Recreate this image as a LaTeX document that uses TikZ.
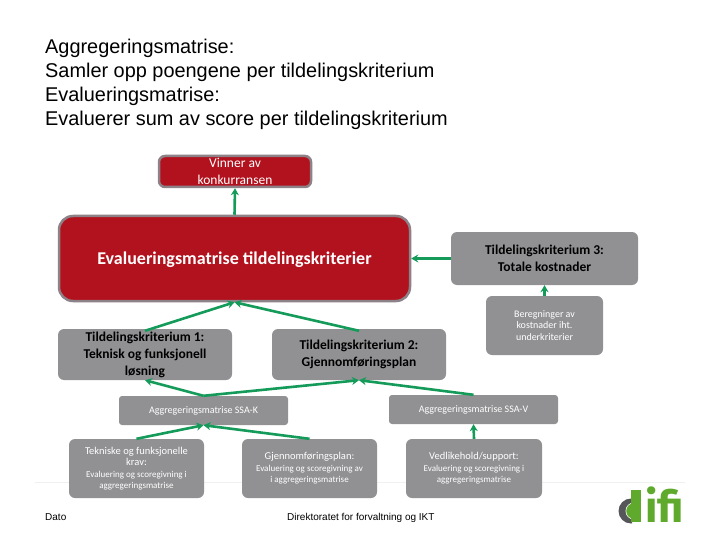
\documentclass[tikz,border=0pt]{standalone}
\usepackage{fontspec}
\setmainfont{Liberation Sans}
\newfontfamily\carl{Carlito}
\newfontfamily\logofont{Fira Sans}[UprightFont=* Bold]
\usetikzlibrary{arrows.meta}
\definecolor{boxgray}{RGB}{145,145,148}
\definecolor{redfill}{RGB}{178,18,30}
\definecolor{edgegray}{RGB}{140,130,135}
\definecolor{arrowgreen}{RGB}{20,155,90}
\definecolor{logogreen}{RGB}{95,170,45}
\definecolor{logogray}{RGB}{85,85,90}
\tikzset{
  box/.style={rectangle,rounded corners=6pt,fill=boxgray,inner sep=0pt,align=center},
  redbox/.style={box,fill=redfill,draw=edgegray,line width=2.5pt,text=white},
  bigtxt/.style={font=\carl\bfseries\fontsize{13.5}{17}\selectfont,text=black},
  smalltxt/.style={font=\carl\fontsize{10}{11.5}\selectfont,text=white},
  link/.style={draw=arrowgreen,line width=2.6pt,-{Stealth[length=7pt,width=8pt]}},
  plain/.style={inner sep=0pt,anchor=base west,font=\fontsize{10}{12}\selectfont},
}
\begin{document}
\begin{tikzpicture}[x=1pt,y=-1pt]
\useasboundingbox (0,0) rectangle (720,540);
\fill[white] (0,0) rectangle (720,540);
\draw[black!6,line width=0.5pt] (35,482) -- (685,482);
\node[inner sep=0pt,anchor=north west,align=left,font=\fontsize{19.9}{24}\selectfont] (title) at (45,38.5)
 {Aggregeringsmatrise:\\Samler opp poengene per tildelingskriterium\\Evalueringsmatrise:\\Evaluerer sum av score per tildelingskriterium};
\node[redbox,minimum width=152pt,minimum height=31pt,font=\carl\fontsize{13.5}{17}\selectfont] (win) at (235,171.5) {Vinner av\\konkurransen};
\node[redbox,rounded corners=14pt,minimum width=351pt,minimum height=85pt] (eval) at (234.5,258.5) {};
\node[font=\carl\bfseries\fontsize{18}{20}\selectfont,text=white,inner sep=0pt] (evaltxt) at (234.5,259.5) {Evalueringsmatrise tildelingskriterier};
\node[box,bigtxt,minimum width=174pt,minimum height=51pt] (t1) at (145,354.5) {Tildelingskriterium 1:\\Teknisk og funksjonell\\løsning};
\node[box,bigtxt,minimum width=174pt,minimum height=51pt] (t2) at (359,354.5) {Tildelingskriterium 2:\\Gjennomføringsplan};
\node[box,bigtxt,minimum width=187pt,minimum height=53pt] (t3) at (544.5,258.5) {Tildelingskriterium 3:\\Totale kostnader};
\node[box,smalltxt,minimum width=117pt,minimum height=59pt] (ber) at (544.5,325.5) {Beregninger av\\kostnader iht.\\underkriterier};
\node[box,smalltxt,rounded corners=3pt,minimum width=169pt,minimum height=29pt] (ssak) at (203.5,410.5) {Aggregeringsmatrise SSA-K};
\node[box,smalltxt,rounded corners=3pt,minimum width=169pt,minimum height=29pt] (ssav) at (473.5,409.5) {Aggregeringsmatrise SSA-V};
\node[box,minimum width=135pt,minimum height=59pt,text=white,font=\carl\fontsize{10.5}{11.5}\selectfont] (tek) at (136.5,468.5)
 {Tekniske og funksjonelle\\krav:\\{\fontsize{9}{11}\selectfont Evaluering og scoregivning i}\\{\fontsize{9}{11}\selectfont aggregeringsmatrise}};
\node[box,minimum width=135pt,minimum height=59pt,text=white,font=\carl\fontsize{10.5}{11.5}\selectfont] (gje) at (309.5,468.5)
 {Gjennomføringsplan:\\{\fontsize{9}{11}\selectfont Evaluering og scoregivning av}\\{\fontsize{9}{11}\selectfont i aggregeringsmatrise}};
\node[box,minimum width=136pt,minimum height=59pt,text=white,font=\carl\fontsize{10.5}{11.5}\selectfont] (ved) at (474,468.5)
 {Vedlikehold/support:\\{\fontsize{9}{11}\selectfont Evaluering og scoregivning i}\\{\fontsize{9}{11}\selectfont aggregeringsmatrise}};
\draw[link] (eval.north) -- (win.south);
\draw[link] (t1.north) ++(0,2) -- (eval.south);
\draw[link] (t2.north) ++(0,2) -- (eval.south);
\draw[link] (t3.west) -- (eval.east);
\draw[link] (ber.north) -- (t3.south);
\draw[link] (ssak.north) -- (t1.south);
\draw[link] (ssak.north) -- (t2.south);
\draw[link] (ssav.north) -- (t2.south);
\draw[link] (tek.north) -- (ssak.south);
\draw[link] (gje.north) -- (ssak.south);
\draw[link] (ved.north) -- (ssav.south);
\node[plain] (dato) at (45,520) {Dato};
\node[plain] (dir) at (287,520) {Direktoratet for forvaltning og IKT};
% logo
\begin{scope}
\clip (612,495) rectangle (632,526);
\fill[logogray] (631,511) circle (12.5);
\fill[white] (634,511) circle (8.5);
\fill[logogreen] (634,511) circle (7.8);
\end{scope}
\fill[logogreen] (631,490) rectangle (641,522);
\node[inner sep=0pt,anchor=base west,text=logogreen,font=\logofont\fontsize{44}{44}\selectfont] (logo) at (645,522) {ifi};
\end{tikzpicture}
\end{document}
